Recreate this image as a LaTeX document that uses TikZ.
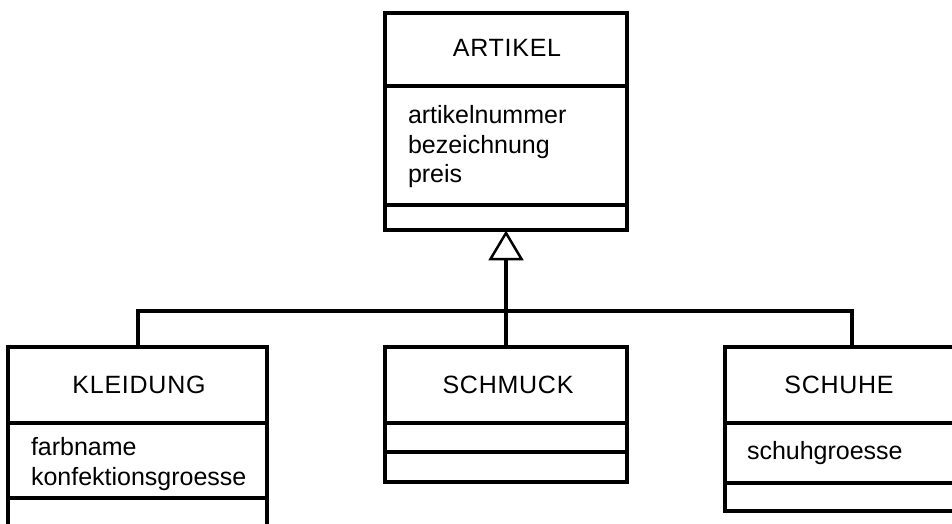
\documentclass[tikz,border=0pt]{standalone}
\usepackage{fontspec}
\setmainfont{Liberation Sans}
\newfontfamily\titlefont[LetterSpace=3]{Liberation Sans}
\begin{document}
\begin{tikzpicture}[x=1pt,y=-1pt,line width=4pt,
  umlbox/.style={draw,line width=4pt,inner sep=0pt,outer sep=0pt,anchor=north west,fill=white},
  cname/.style={anchor=base,inner sep=0pt,font=\titlefont\fontsize{25}{29}\selectfont},
  attr/.style={anchor=base west,inner sep=0pt,font=\fontsize{25}{29}\selectfont},
  conn/.style={line width=4pt,line join=miter},
  genarrow/.style={line width=2.5pt,line join=miter,fill=white}]
\useasboundingbox (0,0) rectangle (952,524);
\clip (0,0) rectangle (952,524);
% boxes
\node[umlbox,minimum width=242pt,minimum height=217pt] (artikel) at (385,13) {};
\node[umlbox,minimum width=259pt,minimum height=220pt] (kleidung) at (8,347) {};
\node[umlbox,minimum width=242pt,minimum height=135pt] (schmuck) at (385,347) {};
\node[umlbox,minimum width=254pt,minimum height=164pt] (schuhe) at (725,347) {};
% dividers
\draw (artikel.west |- 0,86) -- (artikel.east |- 0,86);
\draw (artikel.west |- 0,205) -- (artikel.east |- 0,205);
\draw (kleidung.west |- 0,423) -- (kleidung.east |- 0,423);
\draw (kleidung.west |- 0,498) -- (kleidung.east |- 0,498);
\draw (schmuck.west |- 0,423) -- (schmuck.east |- 0,423);
\draw (schmuck.west |- 0,452) -- (schmuck.east |- 0,452);
\draw (schuhe.west |- 0,423) -- (schuhe.east |- 0,423);
\draw (schuhe.west |- 0,483) -- (schuhe.east |- 0,483);
% texts
\node[cname] (tA) at (507,57) {ARTIKEL};
\node[attr] (a1) at (406,124) {artikelnummer};
\node[attr] (a2) at (406,153) {bezeichnung};
\node[attr] (a3) at (406,182) {preis};
\node[cname] (tK) at (139,393) {KLEIDUNG};
\node[cname] (tS) at (508,393) {SCHMUCK};
\node[attr] (k1) at (29,455) {farbname};
\node[attr] (k2) at (29,485) {konfektionsgroesse};
\node[cname] (tH) at (839,393) {SCHUHE};
\node[attr] (h1) at (745,459) {schuhgroesse};
% connectors
\path (artikel.south) ++(0,29) coordinate (tri);
\coordinate (bus) at (0,311);
\draw[conn] (kleidung.north) -- (kleidung.north |- bus) -- (schuhe.north |- bus) -- (schuhe.north);
\draw[conn] (tri) -- (schmuck.north);
\draw[genarrow] (artikel.south) ++(0,3) -- ++(-15.5,26) -- ++(31,0) -- cycle;
\end{tikzpicture}
\end{document}
